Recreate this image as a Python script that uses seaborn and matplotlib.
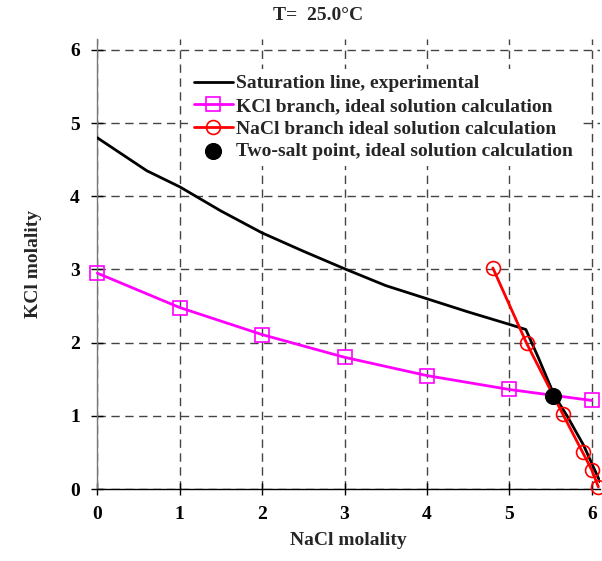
import matplotlib
matplotlib.use("Agg")
import matplotlib.pyplot as plt
import seaborn as sns
import pandas as pd

# Data
exp_x = [0, 0.6, 1.0, 1.5, 2.0, 2.5, 3.0, 3.5, 4.0, 4.5, 5.0, 5.2, 5.35, 5.5, 5.55, 5.7, 5.9, 6.1]
exp_y = [4.8, 4.35, 4.13, 3.8, 3.5, 3.25, 3.01, 2.78, 2.6, 2.42, 2.25, 2.18, 1.8, 1.4, 1.27, 1.0, 0.6, 0.1]

kcl_x = [0, 1, 2, 3, 4, 5, 6]
kcl_y = [2.95, 2.48, 2.11, 1.80, 1.55, 1.36, 1.21]

nacl_x = [4.8, 5.21, 5.65, 5.89, 6.0, 6.08]
nacl_y = [3.02, 1.99, 1.02, 0.50, 0.26, 0.03]

two_x = [5.53]
two_y = [1.27]

x_ticks = [0, 1, 2, 3, 4, 5, 6]
y_ticks = [0, 1, 2, 3, 4, 5, 6]

sns.set_theme(style="white")
plt.rcParams['font.family'] = ['Liberation Serif', 'DejaVu Serif']
plt.rcParams['font.weight'] = 'bold'

fig = plt.figure(figsize=(6.02, 5.61), dpi=100)
ax = fig.add_axes([97.3/602, 72/561, (600-97.3)/602, (489-39)/561])

df_exp = pd.DataFrame({"x": exp_x, "y": exp_y})
df_kcl = pd.DataFrame({"x": kcl_x, "y": kcl_y})
df_nacl = pd.DataFrame({"x": nacl_x, "y": nacl_y})
df_two = pd.DataFrame({"x": two_x, "y": two_y})

sns.lineplot(data=df_exp, x="x", y="y", sort=False, estimator=None, color="black",
             lw=2, ax=ax, label="Saturation line, experimental", zorder=4)
sns.lineplot(data=df_kcl, x="x", y="y", sort=False, estimator=None, color="#ff00ff",
             lw=2, marker="s", markersize=10, markerfacecolor="none",
             markeredgecolor="#ff00ff", markeredgewidth=1.2, ax=ax,
             label="KCl branch, ideal solution calculation", zorder=3, clip_on=False)
sns.lineplot(data=df_nacl, x="x", y="y", sort=False, estimator=None, color="red",
             lw=2, marker="o", markersize=10, markerfacecolor="none",
             markeredgecolor="red", markeredgewidth=1.2, ax=ax,
             label="NaCl branch ideal solution calculation", zorder=5, clip_on=False)
sns.scatterplot(data=df_two, x="x", y="y", color="black", s=130, ax=ax,
                label="Two-salt point, ideal solution calculation", zorder=6,
                edgecolor="black")

ax.set_xlim(0, 6.1)
ax.set_ylim(0, 6.15)
ax.set_xticks(x_ticks)
ax.set_yticks(y_ticks)
ax.set_xticklabels([str(v) for v in x_ticks], fontsize=14, fontweight='bold')
ax.set_yticklabels([str(v) for v in y_ticks], fontsize=14, fontweight='bold')
ax.tick_params(axis='both', direction='inout', length=9, width=1, pad=8,
               bottom=True, left=True, colors='black')
ax.grid(True, color='#444444', linestyle=(0, (6, 4)), lw=1)
for s in ['top', 'right']:
    ax.spines[s].set_visible(False)
ax.spines['left'].set_color('#777777')
ax.spines['bottom'].set_color('black')
ax.spines['left'].set_linewidth(1)
ax.spines['bottom'].set_linewidth(1)

ax.set_xlabel("NaCl molality", fontsize=14, fontweight='bold', labelpad=6)
ax.set_ylabel("KCl molality", fontsize=14, fontweight='bold', labelpad=20)
fig.text(318/602, 1 - 16/561, "T=  25.0°C", ha='center', va='center',
         fontsize=14, fontweight='bold')

leg = ax.legend(loc='upper left', bbox_to_anchor=(0.161, 0.955), frameon=True,
                framealpha=1, edgecolor='none', facecolor='white',
                prop={'size': 14, 'weight': 'bold'}, handlelength=2.0,
                handletextpad=0.15, labelspacing=0.26, borderpad=0.3)

fig.savefig("out.png", dpi=100)
